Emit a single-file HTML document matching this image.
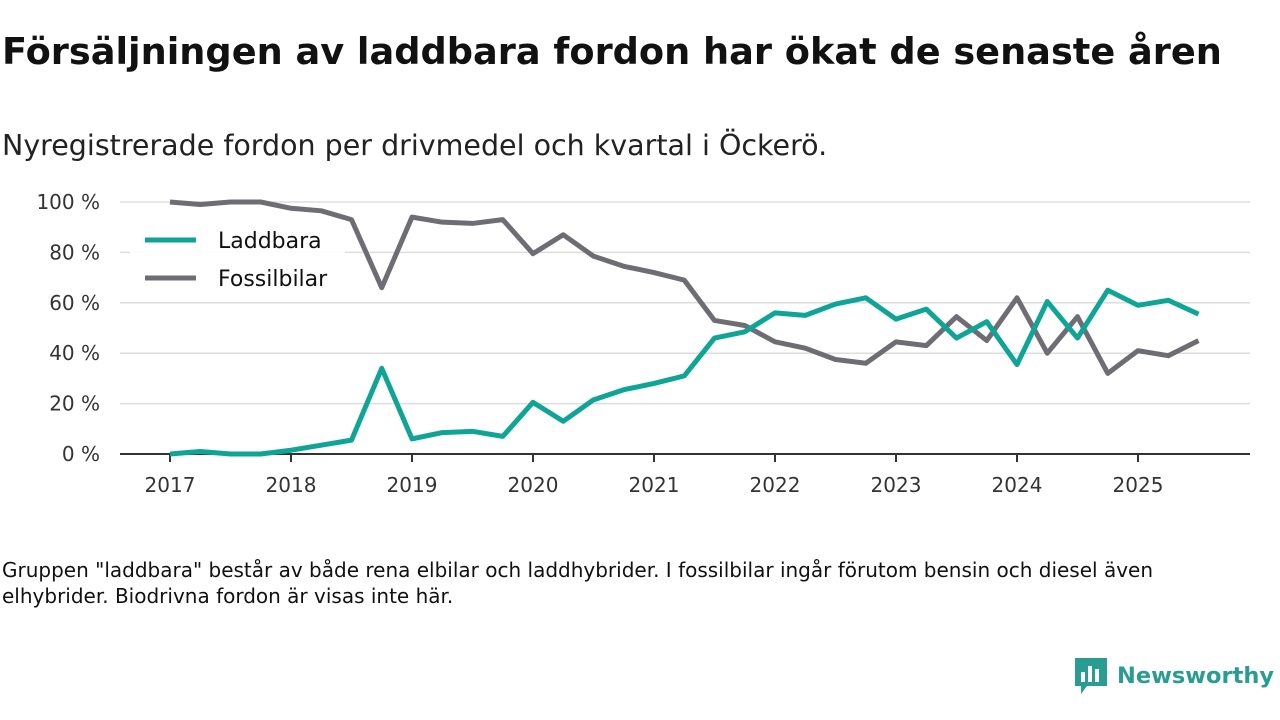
<!DOCTYPE html>
<html><head><meta charset="utf-8"><style>
body{margin:0;width:1280px;height:720px;background:#fff;font-family:"DejaVu Sans",sans-serif;color:#111;position:relative;overflow:hidden}
h1{position:absolute;left:2px;top:30px;margin:0;font-size:36.7px;font-weight:bold;white-space:nowrap}
.sub{position:absolute;left:2px;top:129px;font-size:28.5px;color:#222;white-space:nowrap}
.note{position:absolute;left:2px;top:557px;font-size:20px;line-height:26px;width:1215px;color:#111}
.logo{position:absolute;left:1073px;top:656px;display:flex;align-items:center;color:#2a9d92;font-size:22.5px;font-weight:bold}
</style></head><body>
<h1>Försäljningen av laddbara fordon har ökat de senaste åren</h1>
<div class="sub">Nyregistrerade fordon per drivmedel och kvartal i Öckerö.</div>
<svg id="chart" width="1280" height="520" style="position:absolute;left:0;top:0"></svg>
<div class="note">Gruppen "laddbara" består av både rena elbilar och laddhybrider. I fossilbilar ingår förutom bensin och diesel även elhybrider. Biodrivna fordon är visas inte här.</div>
<div class="logo">
<svg width="36" height="40" viewBox="0 0 36 40"><path d="M2 2h32v28H14l-6 8v-8H2z" fill="#2a9d92"/><rect x="8" y="16" width="4" height="10" fill="#fff"/><rect x="15" y="10" width="4" height="16" fill="#fff"/><rect x="22" y="13" width="4" height="13" fill="#fff"/></svg>
<span style="margin-left:8px">Newsworthy</span></div>
<script>
const years=[2017,2018,2019,2020,2021,2022,2023,2024,2025];
const yTicks=[0,20,40,60,80,100];
const laddbara=[0,1,0,0,1.5,3.5,5.5,34,6,8.5,9,7,20.5,13,21.5,25.5,28,31,46,48.5,56,55,59.5,62,53.5,57.5,46,52.5,35.5,60.5,46,65,59,61,55.5];
const fossil=[100,99,100,100,97.5,96.5,93,66,94,92,91.5,93,79.5,87,78.5,74.5,72,69,53,51,44.5,42,37.5,36,44.5,43,54.5,45,62,40,54.5,32,41,39,45];
const svg=document.getElementById('chart');const NS='http://www.w3.org/2000/svg';
const x=t=>170+(t-2017)*121;const y=v=>454-v*2.52;
function mk(tag,a){const e=document.createElementNS(NS,tag);for(const k in a)e.setAttribute(k,a[k]);svg.appendChild(e);return e;}
yTicks.forEach(v=>{
 if(v>0){const g=mk('line',{x1:120,x2:1250,y1:y(v),y2:y(v),stroke:'#ddd','stroke-width':1.5});
 
 }
 const t=mk('text',{x:100,y:y(v)+7,'text-anchor':'end','font-size':20,fill:'#333','font-family':'DejaVu Sans'});t.textContent=v+' %';
 
 
});
const ax=mk('line',{x1:120,x2:1250,y1:454,y2:454,stroke:'#333','stroke-width':2});


years.forEach(yr=>{
 mk('line',{x1:x(yr),x2:x(yr),y1:454,y2:462,stroke:'#333','stroke-width':2});
 const t=mk('text',{x:x(yr),y:492,'text-anchor':'middle','font-size':20,fill:'#333','font-family':'DejaVu Sans'});t.textContent=yr;
 
 
});
function line(d,c,n){const p=d.map((v,i)=>x(2017+i/4)+','+y(v)).join(' ');
 const e=mk('polyline',{points:p,fill:'none',stroke:c,'stroke-width':5,'stroke-linejoin':'round'});
 
 }
line(fossil,'#6f6d74','fossilbilar-line');
line(laddbara,'#0ea597','laddbara-line');
const lb=mk('rect',{x:130,y:220,width:215,height:80,fill:'#fff','fill-opacity':0.9});


[['Laddbara','#0ea597',240],['Fossilbilar','#6f6d74',278]].forEach(([n,c,yy])=>{
 mk('line',{x1:145,x2:196,y1:yy,y2:yy,stroke:c,'stroke-width':5});
 const t=mk('text',{x:218,y:yy+8,'font-size':22,fill:'#111','font-family':'DejaVu Sans'});t.textContent=n;
 
 
});
</script>
</body></html>
